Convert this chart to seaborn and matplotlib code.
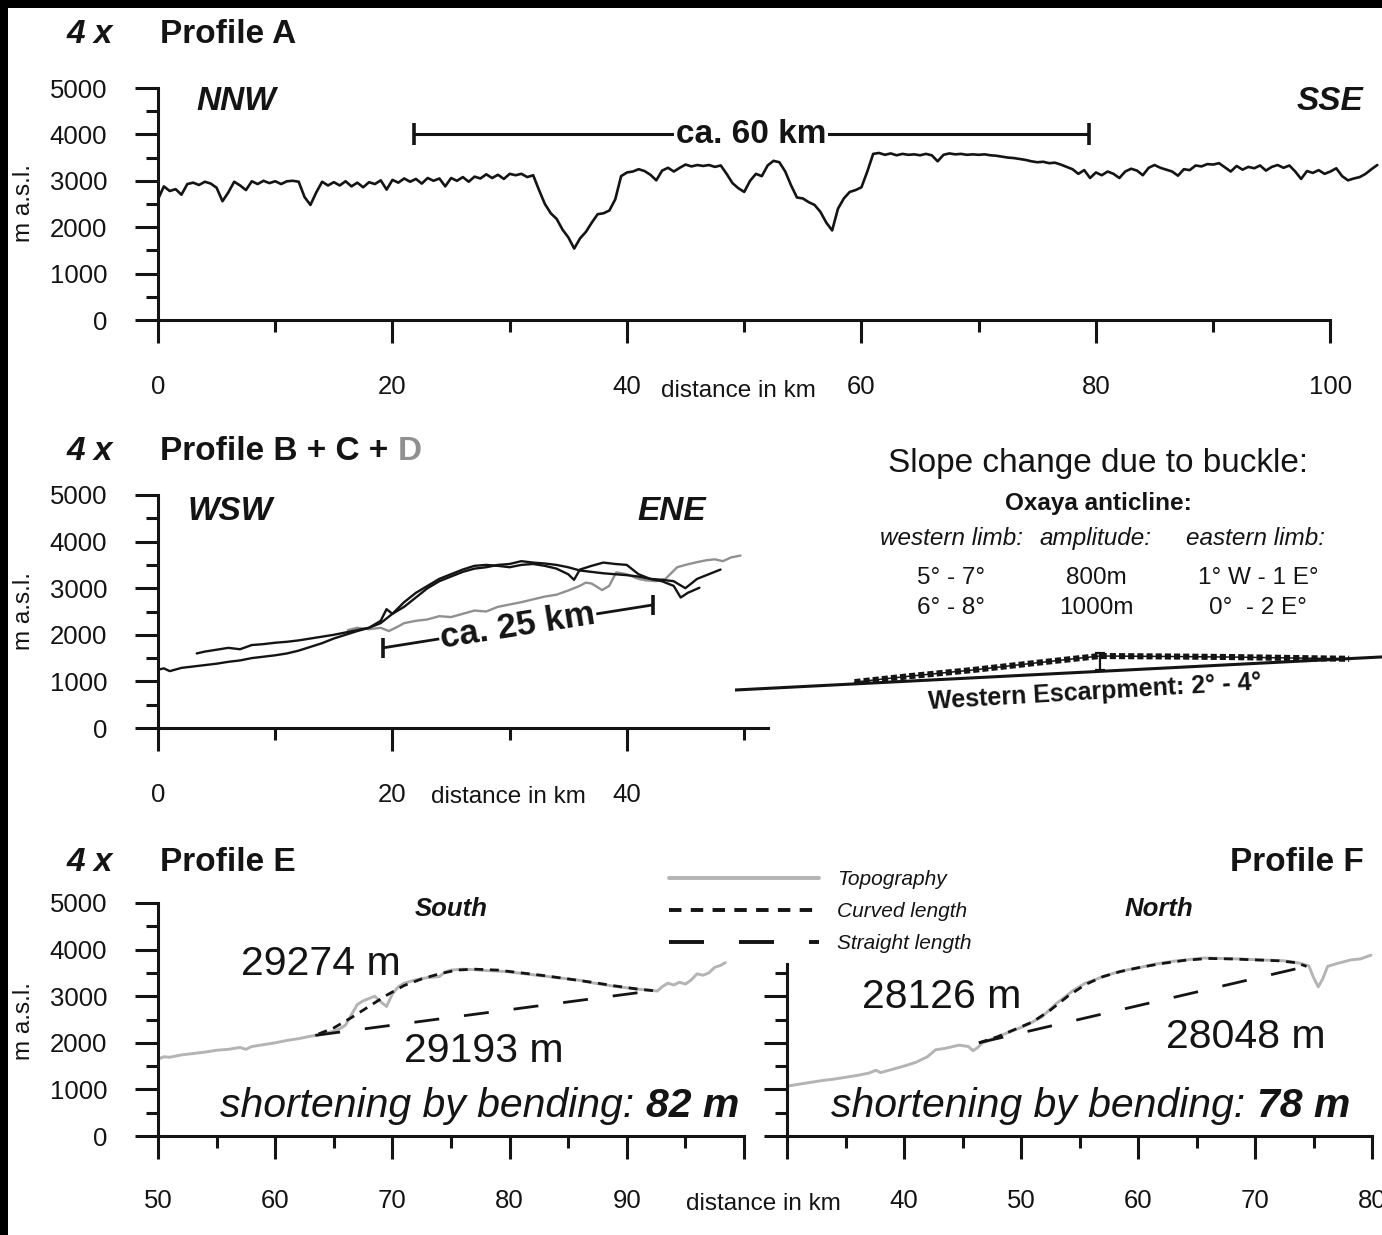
import numpy as np
import pandas as pd
import matplotlib
matplotlib.use("Agg")
import matplotlib.pyplot as plt
from matplotlib.patches import Rectangle
import seaborn as sns

# ---------------- Profile A (NNW -> SSE), one value every 0.5 km ----------------
profile_a_step_km = 0.5
profile_a_elev = [
    2600, 2880, 2780, 2820, 2700, 2930, 2960, 2910, 2980, 2940,
    2850, 2560, 2750, 2980, 2900, 2800, 2990, 2930, 3000, 2950,
    2990, 2930, 2990, 3000, 2980, 2650, 2480, 2750, 2980, 2900,
    2970, 2900, 2990, 2880, 2960, 2860, 2970, 2930, 3010, 2810,
    3020, 2960, 3050, 2980, 3040, 2940, 3060, 3000, 3050, 2880,
    3060, 3000, 3080, 2980, 3090, 3050, 3140, 3060, 3130, 3040,
    3150, 3120, 3150, 3080, 3120, 2800, 2500, 2300, 2180, 1950,
    1780, 1540, 1760, 1900, 2100, 2280, 2300, 2360, 2600, 3100,
    3180, 3200, 3250, 3210, 3130, 3010, 3220, 3280, 3200, 3280,
    3350, 3310, 3340, 3320, 3340, 3300, 3330, 3150, 2950, 2840,
    2760, 3000, 3150, 3100, 3330, 3430, 3400, 3200, 2900, 2640,
    2620, 2540, 2480, 2330, 2100, 1930, 2400, 2620, 2760, 2800,
    2860, 3200, 3580, 3600, 3560, 3590, 3550, 3580, 3560, 3570,
    3550, 3580, 3550, 3420, 3560, 3590, 3570, 3580, 3560, 3570,
    3560, 3570, 3550, 3540, 3520, 3500, 3490, 3470, 3450, 3420,
    3400, 3410, 3380, 3390, 3350, 3300, 3250, 3150, 3230, 3060,
    3180, 3120, 3200, 3150, 3060, 3200, 3260, 3220, 3120, 3280,
    3340, 3280, 3240, 3200, 3110, 3250, 3230, 3330, 3310, 3360,
    3350, 3380, 3290, 3200, 3320, 3240, 3300, 3270, 3330, 3220,
    3300, 3340, 3280, 3330, 3200, 3040, 3210, 3170, 3230, 3150,
    3200, 3270, 3100, 3010, 3050, 3080, 3150, 3250, 3340,
]
profile_a_km = np.arange(len(profile_a_elev)) * profile_a_step_km

# ---------------- Profiles B, C (black) and D (grey), WSW -> ENE ----------------
profile_b_km = [3.3, 4, 5, 6, 7, 8, 9, 10, 11, 12, 13, 14, 15, 16, 17, 18, 19, 20,
                21, 22, 23, 24, 25, 26, 27, 28, 29, 30, 31, 32, 33, 34, 35, 35.5,
                36, 37, 38, 39, 40, 41, 42, 43, 44, 44.6, 45.2, 46.2]
profile_b_elev = [1600, 1640, 1680, 1720, 1690, 1780, 1800, 1830, 1850, 1880, 1920,
                  1960, 2000, 2050, 2100, 2150, 2250, 2450, 2700, 2900, 3050, 3200,
                  3300, 3400, 3480, 3500, 3480, 3450, 3500, 3520, 3480, 3420, 3300,
                  3180, 3400, 3480, 3550, 3520, 3500, 3300, 3200, 3150, 3050, 2800,
                  2900, 3010]
profile_c_km = [0, 0.5, 1, 2, 3, 4, 5, 6, 7, 8, 9, 10, 11, 12, 13, 14, 15, 16, 17,
                18, 19, 19.5, 20, 21, 22, 23, 24, 25, 26, 27, 28, 29, 30, 31, 32,
                33, 34, 35, 36, 37, 38, 39, 40, 41, 42, 43, 44, 45, 46, 47, 48]
profile_c_elev = [1250, 1280, 1220, 1290, 1320, 1350, 1380, 1420, 1450, 1500, 1530,
                  1560, 1600, 1660, 1740, 1820, 1920, 2000, 2080, 2150, 2300, 2550,
                  2450, 2600, 2800, 3000, 3150, 3250, 3350, 3420, 3450, 3500, 3520,
                  3580, 3550, 3530, 3500, 3450, 3380, 3350, 3320, 3300, 3280, 3250,
                  3200, 3180, 3150, 3000, 3200, 3300, 3400]
profile_d_km = [16.2, 17, 18, 19, 19.7, 20.5, 21, 22, 23, 24, 25, 26, 27, 28, 29, 30,
                31, 32, 33, 34, 35, 36, 36.5, 37, 37.9, 38.5, 39.1, 40, 41, 41.6, 42.5,
                43.3, 44.3, 45, 46, 46.8, 47.5, 48.2, 48.9, 49.7]
profile_d_elev = [2100, 2150, 2120, 2150, 2080, 2180, 2250, 2300, 2330, 2400, 2380,
                  2450, 2520, 2500, 2600, 2650, 2700, 2760, 2820, 2860, 2950, 3050,
                  3120, 3100, 2960, 3050, 3340, 3300, 3200, 3170, 3150, 3200, 3450,
                  3500, 3560, 3600, 3620, 3580, 3660, 3700]

# ---------------- Profile E (South) ----------------
profile_e_km = [50, 50.5, 51, 52, 53, 54, 55, 56, 57, 57.5, 58, 59, 60, 61, 62, 63, 64,
                65, 65.5, 66, 66.5, 67, 67.5, 68, 68.5, 69, 69.5, 70, 70.5, 71, 72, 73,
                74, 74.5, 75, 76, 77, 78, 79, 80, 81, 82, 83, 84, 85, 86, 87, 88, 89,
                90, 91, 92, 92.6, 93, 93.5, 94, 94.5, 95, 95.5, 96, 96.5, 97, 97.5, 98,
                98.4]
profile_e_elev = [1650, 1700, 1690, 1740, 1770, 1800, 1840, 1860, 1900, 1860, 1920,
                  1960, 2000, 2050, 2090, 2140, 2180, 2250, 2300, 2380, 2600, 2820,
                  2900, 2950, 3000, 2880, 2780, 3050, 3200, 3280, 3350, 3400, 3420,
                  3520, 3560, 3580, 3570, 3550, 3540, 3520, 3490, 3460, 3430, 3400,
                  3370, 3340, 3290, 3250, 3210, 3180, 3150, 3130, 3110, 3200, 3280,
                  3240, 3300, 3260, 3350, 3480, 3450, 3500, 3620, 3660, 3720]
curved_e_km = [63.7, 65, 66.5, 68, 69.5, 71, 72.5, 74, 75.5, 77, 79, 81, 83, 85, 87,
               89, 91, 92.6]
curved_e_elev = [2190, 2320, 2540, 2780, 3020, 3230, 3370, 3480, 3560, 3580, 3560,
                 3500, 3440, 3370, 3300, 3220, 3150, 3110]
straight_e_km = [63.42, 92.6]
straight_e_elev = [2160, 3130]

# ---------------- Profile F (North) ----------------
profile_f_km = [30, 31, 32, 33, 34, 35, 36, 37, 37.6, 38, 39, 40, 41, 42, 42.7, 43.5,
                44.7, 45.5, 45.9, 46.3, 46.7, 47.5, 48.5, 49.4, 50.5, 51.8, 53, 54.5,
                55.5, 56.9, 58, 59, 60.4, 61.5, 63, 64.5, 65.6, 67, 68.5, 70.3, 71.5,
                72.5, 73.8, 74.6, 75.0, 75.4, 75.8, 76.2, 77, 78.2, 79, 79.9]
profile_f_elev = [1070, 1110, 1150, 1190, 1220, 1260, 1300, 1350, 1410, 1360, 1430,
                  1500, 1580, 1700, 1850, 1880, 1950, 1920, 1830, 1900, 2000, 2080,
                  2180, 2270, 2380, 2560, 2840, 3130, 3280, 3410, 3500, 3560, 3630,
                  3690, 3750, 3790, 3820, 3810, 3800, 3780, 3770, 3760, 3710, 3650,
                  3400, 3200, 3380, 3640, 3700, 3780, 3800, 3880]
curved_f_km = [46.4, 48, 49.5, 51, 52.5, 54, 55.5, 57, 58.5, 60, 62, 64, 66, 68, 70,
               72, 73.5, 74.4]
curved_f_elev = [2000, 2130, 2290, 2450, 2700, 3000, 3250, 3420, 3530, 3610, 3700,
                 3770, 3810, 3800, 3780, 3760, 3720, 3640]
straight_f_km = [46.4, 74.4]
straight_f_elev = [2000, 3640]

# ---------------- scale bars ----------------
span_a_km = [21.8, 79.4]
span_a_elev = [4000, 4000]
span_b_km = [19.2, 42.2]
span_b_elev = [1720, 2640]

# ---------------- buckle sketch (same scale as profile B) ----------------
escarpment_km = [49.2, 104.4]
escarpment_elev = [815, 1525]
buckle_km = [59.4, 64, 69.5, 75, 80.3, 86, 91.1, 96, 101.6]
buckle_elev = [985, 1110, 1245, 1400, 1545, 1535, 1524, 1505, 1485]
amplitude_km = [80.3, 80.3]
amplitude_elev = [1245, 1600]

# ---------------- tick definitions ----------------
elev_major = [0, 1000, 2000, 3000, 4000, 5000]
elev_minor = [500, 1500, 2500, 3500, 4500]
ticks_a_major = [0, 20, 40, 60, 80, 100]
ticks_a_minor = [10, 30, 50, 70, 90]
ticks_b_major = [0, 20, 40]
ticks_b_minor = [10, 30, 50]
ticks_e_major = [50, 60, 70, 80, 90, 100]
ticks_e_minor = [55, 65, 75, 85, 95]
labels_e = ["50", "60", "70", "80", "90", ""]
ticks_f_major = [30, 40, 50, 60, 70, 80]
ticks_f_minor = [35, 45, 55, 65, 75]
labels_f = ["", "40", "50", "60", "70", "80"]
elev_f_major = [0, 1000, 2000, 3000]
elev_f_minor = [500, 1500, 2500, 3500]

# ---------------- style ----------------
INK = "#141414"
GREY_TOPO = "#b4b4b4"
GREY_D = "#909090"
AX_LW = 2.2
TICK_FS = 18.5
TITLE_FS = 24

sns.set_theme(style="ticks")
plt.rcParams["font.family"] = ["Liberation Sans", "DejaVu Sans"]
plt.rcParams["text.color"] = INK

FIG_W, FIG_H = 1382, 1235
fig = plt.figure(figsize=(FIG_W / 100, FIG_H / 100), dpi=100)
fig.patch.set_facecolor("white")


def box(left, top, right, bottom):
    return [left / FIG_W, 1 - bottom / FIG_H, (right - left) / FIG_W, (bottom - top) / FIG_H]


def ftext(x, y, s, **kw):
    kw.setdefault("va", "baseline")
    return fig.text(x / FIG_W, 1 - y / FIG_H, s, **kw)


def style_axes(ax, xmaj, xmin, xlabels, ymaj, ymin, ylabels=True,
               xbound=None, ybound=None, xpad=24):
    ax.set_xlabel("")
    ax.set_ylabel("")
    ax.set_facecolor("none")
    ax.grid(False)
    sns.despine(ax=ax)
    for side in ("left", "bottom"):
        ax.spines[side].set_linewidth(AX_LW)
        ax.spines[side].set_color(INK)
    if xbound is not None:
        ax.spines["bottom"].set_bounds(*xbound)
    if ybound is not None:
        ax.spines["left"].set_bounds(*ybound)
    ax.set_xticks(xmaj)
    ax.set_xticks(xmin, minor=True)
    ax.set_xticklabels(xlabels)
    ax.set_yticks(ymaj)
    ax.set_yticks(ymin, minor=True)
    if ylabels:
        ax.set_yticklabels([str(v) for v in ymaj])
    else:
        ax.set_yticklabels([])
    ax.tick_params(which="major", direction="out", length=16.5, width=AX_LW,
                   color=INK, labelsize=TICK_FS, labelcolor=INK)
    ax.tick_params(which="minor", direction="out", length=8.5, width=AX_LW, color=INK)
    ax.tick_params(axis="x", which="major", pad=xpad)
    ax.tick_params(axis="y", which="major", pad=20)


bold = dict(fontweight="bold")
bold_it = dict(fontweight="bold", style="italic")

# ======================= Profile A =======================
ax_a = fig.add_axes(box(158, 88, 1382, 320))
sns.lineplot(x=profile_a_km, y=profile_a_elev, ax=ax_a, color=INK, linewidth=1.9,
             estimator=None, sort=False)
ax_a.plot(span_a_km, span_a_elev, color=INK, lw=2.2, marker="|", markersize=16,
          markeredgewidth=2.6, solid_capstyle="butt")
ax_a.text(np.mean(span_a_km), span_a_elev[0], "ca. 60 km", ha="center", va="center",
          fontsize=24, **bold,
          bbox=dict(facecolor="white", edgecolor="none", pad=1.5))
ax_a.set_xlim(0, 104.4)
ax_a.set_ylim(0, 5000)
style_axes(ax_a, ticks_a_major, ticks_a_minor, [str(v) for v in ticks_a_major],
           elev_major, elev_minor, xbound=(0, 100), ybound=(0, 5000), xpad=23)

ftext(67, 43, "4 x", fontsize=TITLE_FS, **bold_it)
ftext(160, 43, "Profile A", fontsize=TITLE_FS, **bold)
ftext(196, 110, "NNW", fontsize=TITLE_FS, **bold_it)
ftext(1363, 110, "SSE", fontsize=TITLE_FS, ha="right", **bold_it)
ftext(738, 397, "distance in km", fontsize=17.5, ha="center")
ftext(24, 203, "m a.s.l.", fontsize=17.5, rotation=90, ha="center", va="center")

# ======================= Profiles B + C + D =======================
ax_b = fig.add_axes(box(158, 495, 768, 728))
sns.lineplot(x=profile_d_km, y=profile_d_elev, ax=ax_b, color=GREY_D, linewidth=1.7,
             estimator=None, sort=False)
sns.lineplot(x=profile_c_km, y=profile_c_elev, ax=ax_b, color=INK, linewidth=1.7,
             estimator=None, sort=False)
sns.lineplot(x=profile_b_km, y=profile_b_elev, ax=ax_b, color=INK, linewidth=1.7,
             estimator=None, sort=False)
ax_b.plot(span_b_km, span_b_elev, color=INK, lw=2.0, marker="|", markersize=15,
          markeredgewidth=2.6, solid_capstyle="butt")
span_b_angle = np.degrees(np.arctan2(span_b_elev[1] - span_b_elev[0],
                                     span_b_km[1] - span_b_km[0]))
ax_b.text(np.mean(span_b_km), np.mean(span_b_elev), "ca. 25 km", ha="center",
          va="center", fontsize=25, rotation=span_b_angle,
          transform_rotates_text=True, rotation_mode="anchor", **bold,
          bbox=dict(facecolor="white", edgecolor="none", pad=1.0))
ax_b.set_xlim(0, 52.05)
ax_b.set_ylim(0, 5000)
style_axes(ax_b, ticks_b_major, ticks_b_minor, [str(v) for v in ticks_b_major],
           elev_major, elev_minor, xbound=(0, 52.05), ybound=(0, 5000), xpad=23)

ftext(67, 460, "4 x", fontsize=TITLE_FS, **bold_it)
t_bc = ftext(160, 460, "Profile B + C +", fontsize=TITLE_FS, **bold)
ax_b.annotate("D", xy=(1, 0), xycoords=t_bc, xytext=(6.5, 0),
              textcoords="offset points", ha="left", va="bottom", fontsize=TITLE_FS,
              color=GREY_D, **bold)
ftext(188, 520, "WSW", fontsize=TITLE_FS, **bold_it)
ftext(706, 520, "ENE", fontsize=TITLE_FS, ha="right", **bold_it)
ftext(508, 803, "distance in km", fontsize=17.5, ha="center")
ftext(24, 611, "m a.s.l.", fontsize=17.5, rotation=90, ha="center", va="center")

# ---- buckle sketch to the right ----
ax_s = fig.add_axes(box(735, 495, 1382, 728))
ax_s.set_facecolor("none")
sns.lineplot(x=escarpment_km, y=escarpment_elev, ax=ax_s, color=INK, linewidth=2.2,
             estimator=None, sort=False)
sns.lineplot(x=buckle_km, y=buckle_elev, ax=ax_s, color=INK, linewidth=4.4,
             estimator=None, sort=False)
ax_s.lines[-1].set_dashes([1.0, 0.5])
sns.lineplot(x=buckle_km, y=buckle_elev, ax=ax_s, color=INK, linewidth=1.1,
             estimator=None, sort=False)
ax_s.plot(amplitude_km, amplitude_elev, color=INK, lw=1.6, marker="_",
          markersize=7, markeredgewidth=1.6)
esc_angle = np.degrees(np.arctan2(escarpment_elev[1] - escarpment_elev[0],
                                  escarpment_km[1] - escarpment_km[0]))
ax_s.text(79.9, 770, "Western Escarpment: 2° - 4°", ha="center", va="center",
          fontsize=18, rotation=esc_angle + 0.6, transform_rotates_text=True,
          rotation_mode="anchor", **bold)
ax_s.set_xlim(49.2, 104.4)
ax_s.set_ylim(0, 5000)
ax_s.axis("off")

ftext(1098, 472, "Slope change due to buckle:", fontsize=24, ha="center")
ftext(1098, 510, "Oxaya anticline:", fontsize=17.5, ha="center", **bold)
ftext(952, 545, "western limb:", fontsize=17.5, ha="center", style="italic")
ftext(1095, 545, "amplitude:", fontsize=17.5, ha="center", style="italic")
ftext(1256, 545, "eastern limb:", fontsize=17.5, ha="center", style="italic")
ftext(951, 584, "5° - 7°", fontsize=17.5, ha="center")
ftext(1096, 584, "800m", fontsize=17.5, ha="center")
ftext(1258, 584, "1° W - 1 E°", fontsize=17.5, ha="center")
ftext(951, 614, "6° - 8°", fontsize=17.5, ha="center")
ftext(1096, 614, "1000m", fontsize=17.5, ha="center")
ftext(1258, 614, "0°  - 2 E°", fontsize=17.5, ha="center")

# ======================= Profile E =======================
ax_e = fig.add_axes(box(158, 903, 744, 1136))
sns.lineplot(x=profile_e_km, y=profile_e_elev, ax=ax_e, color=GREY_TOPO, linewidth=2.1,
             estimator=None, sort=False)
topo_line = ax_e.lines[-1]
sns.lineplot(x=curved_e_km, y=curved_e_elev, ax=ax_e, color=INK, linewidth=2.0,
             estimator=None, sort=False)
curved_line = ax_e.lines[-1]
curved_line.set_dashes([3.2, 2.4])
sns.lineplot(x=straight_e_km, y=straight_e_elev, ax=ax_e, color=INK, linewidth=2.0,
             estimator=None, sort=False)
straight_line = ax_e.lines[-1]
straight_line.set_dashes([9, 9])
ax_e.set_xlim(50, 100)
ax_e.set_ylim(0, 5000)
style_axes(ax_e, ticks_e_major, ticks_e_minor, labels_e, elev_major, elev_minor,
           xbound=(50, 100), ybound=(0, 5000), xpad=22)

ftext(67, 871, "4 x", fontsize=TITLE_FS, **bold_it)
ftext(160, 871, "Profile E", fontsize=TITLE_FS, **bold)
ftext(451, 916, "South", fontsize=18.5, ha="center", **bold_it)
ftext(241, 975, "29274 m", fontsize=29.5)
ftext(404, 1062, "29193 m", fontsize=29.5)
t_e = ftext(739, 1117, "82 m", fontsize=29.5, ha="right", **bold_it)
ax_e.annotate("shortening by bending:", xy=(0, 0), xycoords=t_e, xytext=(-8, 0),
              textcoords="offset points", ha="right", va="bottom", fontsize=29.5,
              style="italic")
ftext(763, 1210, "distance in km", fontsize=17.5, ha="center")
ftext(24, 1021, "m a.s.l.", fontsize=17.5, rotation=90, ha="center", va="center")

# ======================= Profile F =======================
ax_f = fig.add_axes(box(787, 903, 1382, 1136))
sns.lineplot(x=profile_f_km, y=profile_f_elev, ax=ax_f, color=GREY_TOPO, linewidth=2.1,
             estimator=None, sort=False)
sns.lineplot(x=curved_f_km, y=curved_f_elev, ax=ax_f, color=INK, linewidth=2.0,
             estimator=None, sort=False)
ax_f.lines[-1].set_dashes([3.2, 2.4])
sns.lineplot(x=straight_f_km, y=straight_f_elev, ax=ax_f, color=INK, linewidth=2.0,
             estimator=None, sort=False)
ax_f.lines[-1].set_dashes([9, 9])
ax_f.set_xlim(30, 80.85)
ax_f.set_ylim(0, 5000)
style_axes(ax_f, ticks_f_major, ticks_f_minor, labels_f, elev_f_major, elev_f_minor,
           ylabels=False, xbound=(30, 80), ybound=(0, 3700), xpad=22)

ftext(1364, 871, "Profile F", fontsize=TITLE_FS, ha="right", **bold)
ftext(1159, 916, "North", fontsize=18.5, ha="center", **bold_it)
ftext(862, 1008, "28126 m", fontsize=29.5)
ftext(1166, 1048, "28048 m", fontsize=29.5)
t_f = ftext(1350, 1117, "78 m", fontsize=29.5, ha="right", **bold_it)
ax_f.annotate("shortening by bending:", xy=(0, 0), xycoords=t_f, xytext=(-8, 0),
              textcoords="offset points", ha="right", va="bottom", fontsize=29.5,
              style="italic")

# ---- legend between the two lower panels ----
leg = fig.legend(handles=[topo_line, curved_line, straight_line],
                 labels=["Topography", "Curved length", "Straight length"],
                 loc="upper left", bbox_to_anchor=(669 / FIG_W, 1 - 870 / FIG_H),
                 frameon=False, borderpad=0, borderaxespad=0, handlelength=7.2,
                 handletextpad=0.85, labelspacing=0.62,
                 prop=dict(style="italic", size=15))
for h in leg.legend_handles:
    h.set_linewidth(2.8)

# dark frame edges along the top and left border
fig.add_artist(Rectangle((0, 1 - 8 / FIG_H), 1, 8 / FIG_H, transform=fig.transFigure,
                         facecolor="black", edgecolor="none", zorder=10))
fig.add_artist(Rectangle((0, 0), 8 / FIG_W, 1, transform=fig.transFigure,
                         facecolor="black", edgecolor="none", zorder=10))

fig.savefig("out.png", dpi=100, facecolor="white")
